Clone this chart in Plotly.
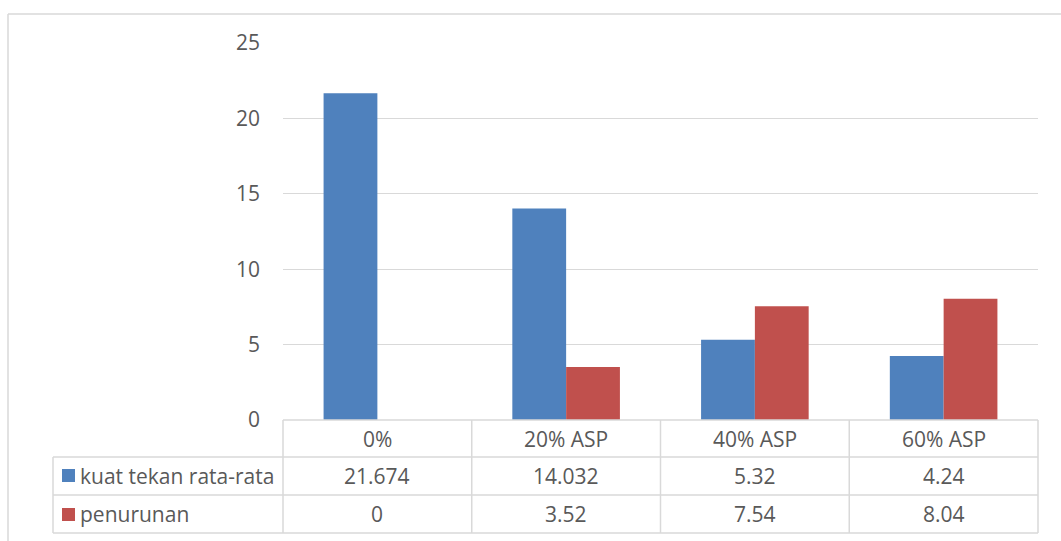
import plotly.graph_objects as go

categories = ["0%", "20% ASP", "40% ASP", "60% ASP"]
series_names = ["kuat tekan rata-rata", "penurunan"]
kuat_tekan = [21.674, 14.032, 5.32, 4.24]
penurunan = [0, 3.52, 7.54, 8.04]
kuat_labels = ["21.674", "14.032", "5.32", "4.24"]
penurunan_labels = ["0", "3.52", "7.54", "8.04"]
y_ticks = [0, 5, 10, 15, 20, 25]

W, H = 1061, 541
L, R, T, B = 283, 1038, 43, 420
PW, PH = R - L, B - T

def px_x(x):
    return (x - L) / PW

def px_y(y):
    return (B - y) / PH

BLUE = "#4f81bd"
RED = "#c0504d"
GRID = "#d9d9d9"
TXT = "#595959"
FONT = "Open Sans"
FS = 21

fig = go.Figure()
fig.add_trace(go.Bar(x=categories, y=kuat_tekan, name=series_names[0],
                     marker=dict(color=BLUE, line=dict(width=0))))
fig.add_trace(go.Bar(x=categories, y=penurunan, name=series_names[1],
                     marker=dict(color=RED, line=dict(width=0))))

shapes = []
n = len(categories)
row_y = [420, 457, 495, 533]
# horizontal lines of table
shapes.append(dict(type="line", xref="paper", yref="paper", x0=0, x1=1,
                   y0=px_y(row_y[0]), y1=px_y(row_y[0]), line=dict(color=GRID, width=1.5)))
for yy in row_y[1:]:
    shapes.append(dict(type="line", xref="paper", yref="paper", x0=px_x(53), x1=1,
                       y0=px_y(yy), y1=px_y(yy), line=dict(color=GRID, width=1.5)))
# vertical lines
for i in range(n + 1):
    shapes.append(dict(type="line", xref="paper", yref="paper", x0=i / n, x1=i / n,
                       y0=px_y(row_y[0]), y1=px_y(row_y[3]), line=dict(color=GRID, width=1.5)))
shapes.append(dict(type="line", xref="paper", yref="paper", x0=px_x(53), x1=px_x(53),
                   y0=px_y(row_y[1]), y1=px_y(row_y[3]), line=dict(color=GRID, width=1.5)))
# legend keys
for col, (ya, yb) in zip([BLUE, RED], [(469, 482), (508, 521)]):
    shapes.append(dict(type="rect", xref="paper", yref="paper", x0=px_x(62), x1=px_x(75),
                       y0=px_y(yb), y1=px_y(ya), fillcolor=col, line=dict(width=0)))
# outer chart border
shapes.append(dict(type="line", xref="paper", yref="paper", x0=px_x(8), x1=px_x(1061),
                   y0=px_y(14), y1=px_y(14), line=dict(color=GRID, width=1.5)))
shapes.append(dict(type="line", xref="paper", yref="paper", x0=px_x(8), x1=px_x(8),
                   y0=px_y(14), y1=px_y(541), line=dict(color=GRID, width=1.5)))

annotations = []
row_centers = [(row_y[i] + row_y[i + 1]) / 2 for i in range(3)]
afont = dict(family=FONT, size=FS, color=TXT)
for i, c in enumerate(categories):
    for txt, yc in zip([c, kuat_labels[i], penurunan_labels[i]], row_centers):
        annotations.append(dict(x=c, xref="x", y=px_y(yc), yref="paper",
                                xanchor="center", yanchor="middle",
                                text=txt, showarrow=False, font=afont))
for name, yc in zip(series_names, row_centers[1:]):
    annotations.append(dict(x=px_x(78), xref="paper", y=px_y(yc), yref="paper",
                            xanchor="left", yanchor="middle",
                            text=name, showarrow=False, font=afont))

fig.update_layout(
    width=W, height=H,
    margin=dict(l=L, r=W - R, t=T, b=H - B),
    paper_bgcolor="white", plot_bgcolor="white",
    barmode="group", bargap=0.43, bargroupgap=0,
    showlegend=False,
    font=dict(family=FONT, size=FS, color=TXT),
    shapes=shapes, annotations=annotations,
    xaxis=dict(showticklabels=False, showgrid=False, zeroline=False, showline=False,
               range=[-0.5, n - 0.5]),
    yaxis=dict(range=[0, 25], tickvals=y_ticks, showgrid=True, gridcolor=GRID, gridwidth=1.3,
               zeroline=False, showline=False, ticklabelstandoff=22,
               tickfont=dict(family=FONT, size=FS, color=TXT)),
)

fig.write_html("out.html")
